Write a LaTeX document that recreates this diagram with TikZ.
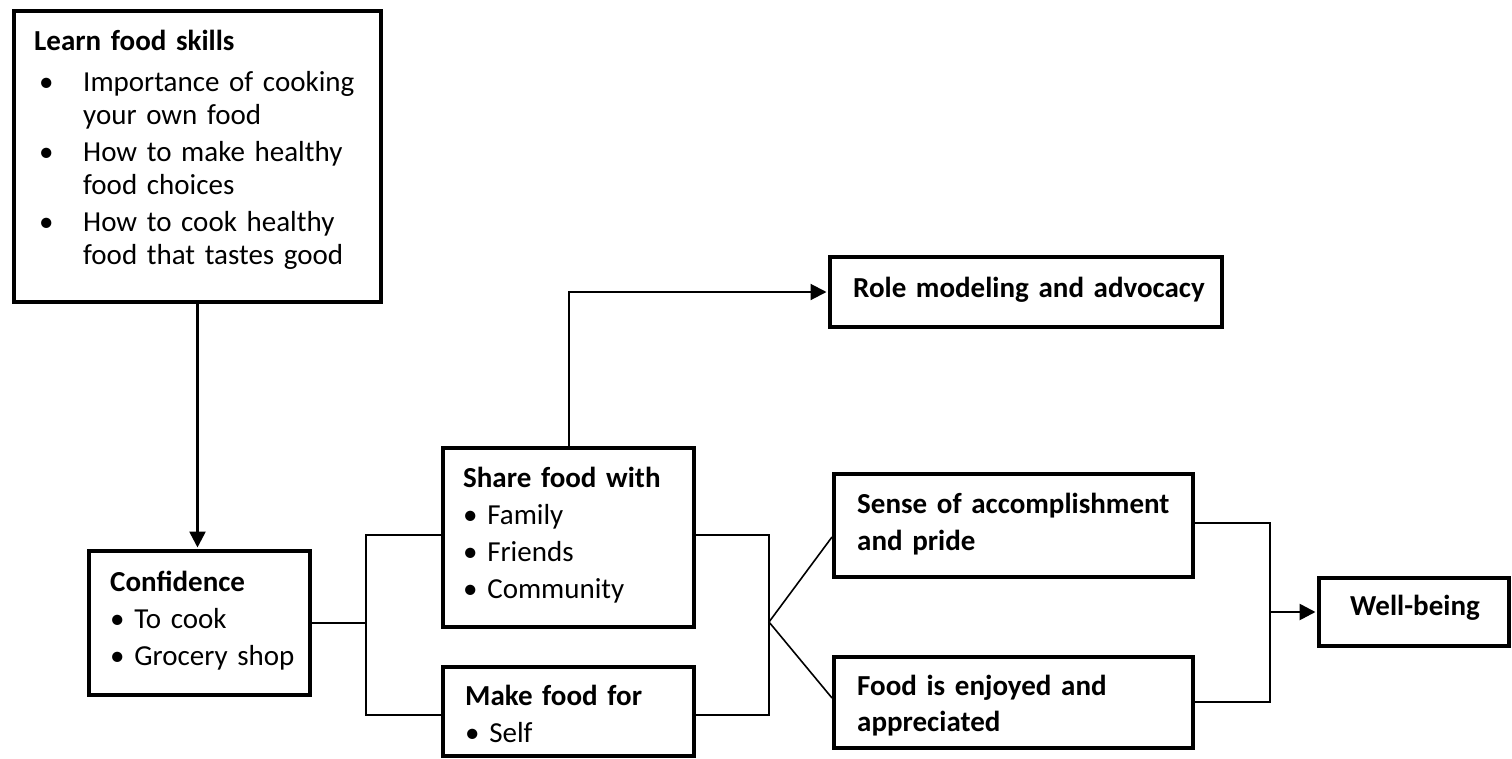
\documentclass[tikz,border=0pt]{standalone}
\usepackage{fontspec}
\setmainfont{Carlito}
\usetikzlibrary{arrows.meta}
\begin{document}
\begin{tikzpicture}[x=1pt,y=-1pt,
  box/.style={draw, line width=4pt, rectangle, inner sep=0pt},
  wire/.style={line width=1.6pt},
  feed/.style={line width=2.6pt, -{Triangle[length=16pt,width=16pt]}, shorten >=1.5pt},
  lead/.style={line width=2pt, -{Triangle[length=16pt,width=16pt]}, shorten >=1.5pt},
  txt/.style={anchor=base west, inner sep=0pt, align=left, text width=360pt,
    font=\fontsize{29}{37}\selectfont},
]
\useasboundingbox (0,0) rectangle (1512,758);

% boxes
\node[box, minimum width=367pt, minimum height=291pt] (learn) at (197.5,156.5) {};
\node[box, minimum width=221pt, minimum height=144pt] (conf)  at (199.5,623) {};
\node[box, minimum width=251pt, minimum height=179pt] (share) at (568.5,537.5) {};
\node[box, minimum width=251pt, minimum height=89pt]  (make)  at (568.5,711.5) {};
\node[box, minimum width=392pt, minimum height=70pt]  (role)  at (1026,292) {};
\node[box, minimum width=359pt, minimum height=103pt] (sense) at (1013.5,525.5) {};
\node[box, minimum width=359pt, minimum height=91pt]  (food)  at (1013.5,702.5) {};
\node[box, minimum width=190pt, minimum height=68pt]  (well)  at (1414,612) {};

% box texts
\node[txt, font=\fontsize{29}{33}\selectfont] (learnt) at (34,50)
  {\textbf{Learn food skills}\\[8pt]
   \hspace*{5pt}\makebox[44pt][l]{\textbullet}Importance of cooking\\
   \hspace*{49pt}your own food\\[4pt]
   \hspace*{5pt}\makebox[44pt][l]{\textbullet}How to make healthy\\
   \hspace*{49pt}food choices\\[4pt]
   \hspace*{5pt}\makebox[44pt][l]{\textbullet}How to cook healthy\\
   \hspace*{49pt}food that tastes good};
\node[txt] (conft) at (110,591)
  {\textbf{Confidence}\\ \textbullet{} To cook\\ \textbullet{} Grocery shop};
\node[txt] (sharet) at (463,487)
  {\textbf{Share food with}\\ \textbullet{} Family\\ \textbullet{} Friends\\ \textbullet{} Community};
\node[txt] (maket) at (465,705)
  {\textbf{Make food for}\\ \textbullet{} Self};
\node[txt] (rolet) at (853,297) {\textbf{Role modeling and advocacy}};
\node[txt] (senset) at (857,513)
  {\textbf{Sense of accomplishment}\\ \textbf{and pride}};
\node[txt, font=\fontsize{29}{36}\selectfont] (foodt) at (857,695)
  {\textbf{Food is enjoyed and}\\ \textbf{appreciated}};
\node[txt] (wellt) at (1350,615) {\textbf{Well-being}};

% junction points
\coordinate (jl) at (366,623);
\coordinate (jr) at (769,622);
\coordinate (jw) at (1270,612);

% connectors
\draw[feed] (learn.south) -- (learn.south |- conf.north);
\draw[wire] (conf.east) -- (jl);
\draw[wire] (share.west |- 0,535) -- (jl |- 0,535) -- (jl |- 0,715) -- (make.west |- 0,715);
\draw[wire] (share.east |- 0,535) -- (jr |- 0,535) -- (jr |- 0,715) -- (make.east |- 0,715);
\draw[wire] (sense.west |- 0,537) -- (jr) -- (food.west |- 0,698);
\draw[wire] (sense.east |- 0,523) -- (jw |- 0,523) -- (jw |- 0,702) -- (food.east |- 0,702);
\draw[feed] (jw) -- (jw -| well.west);
\draw[lead] (share.north) -- (share.north |- role.west) -- (role.west);
\end{tikzpicture}
\end{document}
